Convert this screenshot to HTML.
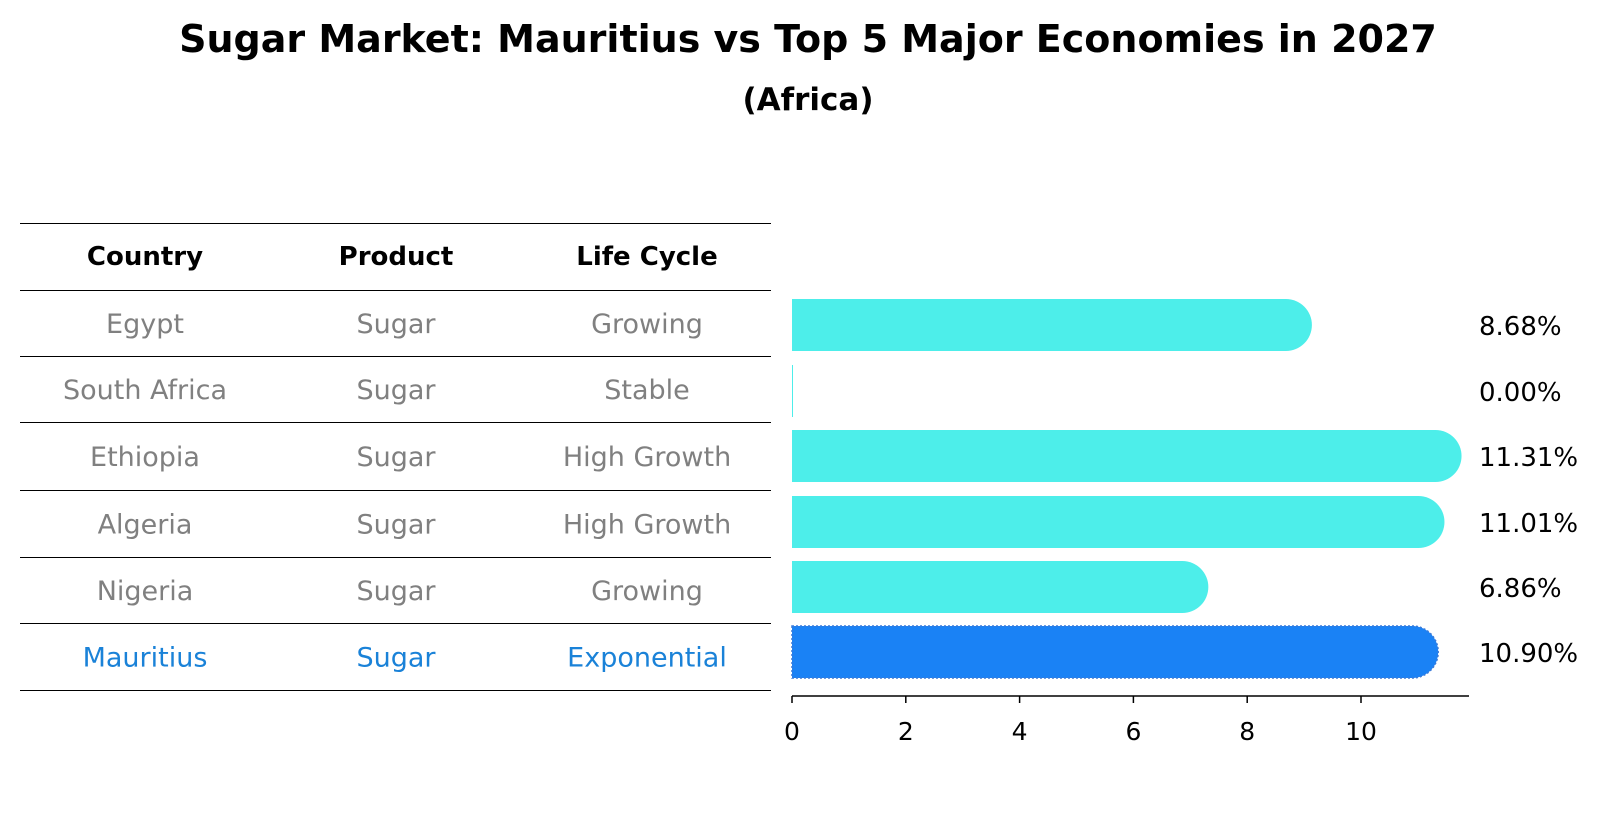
<!DOCTYPE html>
<html><head><meta charset="utf-8"><style>
body{margin:0;background:#fff;font-family:"Liberation Sans","DejaVu Sans",sans-serif;}
svg text{font-family:"DejaVu Sans","Liberation Sans",sans-serif;}
</style></head><body>
<svg id="c" width="1604" height="823" xmlns="http://www.w3.org/2000/svg">
<text x="808" y="52" text-anchor="middle" font-size="38" font-weight="bold">Sugar Market: Mauritius vs Top 5 Major Economies in 2027</text>
<text x="808" y="110" text-anchor="middle" font-size="31" font-weight="bold">(Africa)</text>
<g id="table"></g>
<g id="bars"></g>
</svg>
<script>
const countries=["Egypt","South Africa","Ethiopia","Algeria","Nigeria","Mauritius"];
const products=["Sugar","Sugar","Sugar","Sugar","Sugar","Sugar"];
const lifeCycles=["Growing","Stable","High Growth","High Growth","Growing","Exponential"];
const values=[8.68,0.00,11.31,11.01,6.86,10.90];
const ticks=[0,2,4,6,8,10];
const NS="http://www.w3.org/2000/svg";
function mk(t,a,p){const e=document.createElementNS(NS,t);for(const k in a)e.setAttribute(k,a[k]);p.appendChild(e);return e;}
const tb=document.getElementById('table'),bg=document.getElementById('bars');
const lines=[223,290,356,422,490,557,623,690];
const cols=[145,396,647];
lines.forEach((y,i)=>{const l=mk('line',{x1:20,x2:771,y1:y+0.5,y2:y+0.5,stroke:'#000','stroke-width':1},tb);

});
["Country","Product","Life Cycle"].forEach((h,i)=>{const t=mk('text',{x:cols[i],y:265,'text-anchor':'middle','font-size':26,'font-weight':'bold'},tb);t.textContent=h;

});
const xs=v=>792+v*56.9;
const rowC=i=>(lines[i+1]+lines[i+2])/2;
const barC=[325,391,456,522,587,652];
countries.forEach((c,i)=>{const last=i===countries.length-1;const col=last?'#1a82d8':'#808080';
[c,products[i],lifeCycles[i]].forEach((s,j)=>{const t=mk('text',{x:cols[j],y:rowC(i)+10,'text-anchor':'middle','font-size':27,fill:col},tb);t.textContent=s;

});
const h=52,r=26,y=barC[i]-h/2,x0=xs(0),x1=xs(values[i]);
let d;
if(values[i]<=0){d=`M${x0} ${y}h1v${h}h-1z`;}
else d=`M${x0} ${y}H${x1}A${r} ${r} 0 0 1 ${x1} ${y+h}H${x0}Z`;
const p=mk('path',{d:d,fill:last?'#1a82f5':'#4deeea'},bg);
if(last){p.setAttribute('stroke','#3a7ad8');p.setAttribute('stroke-dasharray','2 2');p.setAttribute('stroke-width','1.5');}


const t=mk('text',{x:1479,y:barC[i]+10,'font-size':26},bg);t.textContent=values[i].toFixed(2)+'%';


});
const ax=mk('line',{x1:792,x2:1469,y1:696,y2:696,stroke:'#000','stroke-width':1.5},bg);


ticks.forEach(v=>{const l=mk('line',{x1:xs(v),x2:xs(v),y1:696,y2:703,stroke:'#000','stroke-width':1.5},bg);


const t=mk('text',{x:xs(v),y:740,'text-anchor':'middle','font-size':25},bg);t.textContent=v;

});
</script>
</body></html>
